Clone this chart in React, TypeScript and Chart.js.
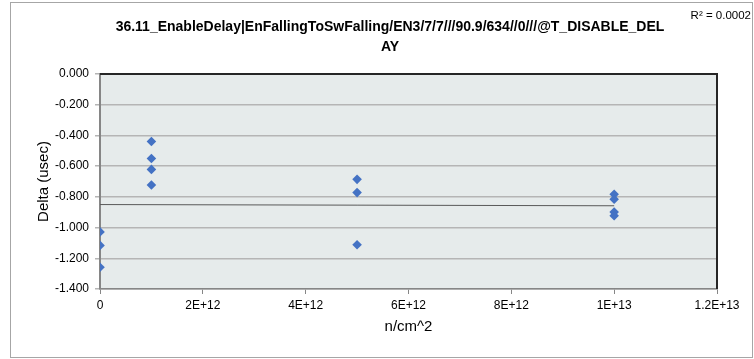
import React, { useEffect, useRef } from "react";
import { Chart, registerables } from "chart.js";
Chart.register(...registerables);

const TITLE_LINES = [
  "36.11_EnableDelay|EnFallingToSwFalling/EN3/7/7///90.9/634//0///@T_DISABLE_DEL",
  "AY",
];
const X_TITLE = "n/cm^2";
const Y_TITLE = "Delta (usec)";
const R2_LABEL = "R² = 0.0002";

const fluence = [0, 0, 0, 1e12, 1e12, 1e12, 1e12, 5e12, 5e12, 5e12, 1e13, 1e13, 1e13, 1e13];
const delta = [-1.028, -1.116, -1.258, -0.439, -0.55, -0.621, -0.723, -0.686, -0.772, -1.112, -0.783, -0.815, -0.899, -0.923];

const trendX = [0, 1e13];
const trendY = [-0.85, -0.858];

const xTickValues = [0, 2e12, 4e12, 6e12, 8e12, 1e13, 1.2e13];
const xTickLabels = ["0", "2E+12", "4E+12", "6E+12", "8E+12", "1E+13", "1.2E+13"];
const yTickValues = [0, -0.2, -0.4, -0.6, -0.8, -1.0, -1.2, -1.4];
const yTickLabels = ["0.000", "-0.200", "-0.400", "-0.600", "-0.800", "-1.000", "-1.200", "-1.400"];

const FONT = "'Liberation Sans', Arial, sans-serif";

export default function App() {
  const ref = useRef<HTMLCanvasElement | null>(null);
  useEffect(() => {
    if (!ref.current) return;
    const plotDeco = {
      id: "plotDeco",
      beforeDraw(chart: any) {
        const { ctx, chartArea: a } = chart;
        ctx.save();
        ctx.fillStyle = "#e6ebeb";
        ctx.fillRect(a.left, a.top, a.right - a.left, a.bottom - a.top);
        ctx.restore();
      },
      afterDraw(chart: any) {
        const { ctx, chartArea: a, width } = chart;
        ctx.save();
        ctx.strokeStyle = "#262626";
        ctx.lineWidth = 2;
        ctx.beginPath();
        ctx.moveTo(a.left, a.top);
        ctx.lineTo(a.right, a.top);
        ctx.lineTo(a.right, a.bottom);
        ctx.stroke();
        ctx.fillStyle = "#000";
        ctx.font = "11.5px " + FONT;
        ctx.textAlign = "right";
        ctx.textBaseline = "middle";
        ctx.fillText(R2_LABEL, width - 1, 13);
        ctx.restore();
      },
    };
    const chart = new Chart(ref.current, {
      type: "scatter",
      data: {
        datasets: [
          {
            label: "data",
            data: fluence.map((x, i) => ({ x, y: delta[i] })),
            pointStyle: "rectRot",
            pointRadius: 4.8,
            backgroundColor: "#4472c4",
            borderColor: "#4472c4",
            borderWidth: 0,
          },
          {
            label: "trend",
            data: trendX.map((x, i) => ({ x, y: trendY[i] })),
            showLine: true,
            pointRadius: 0,
            borderColor: "#595959",
            borderWidth: 1,
          },
        ],
      },
      options: {
        responsive: false,
        animation: false,
        devicePixelRatio: 1,
        layout: { padding: { left: 17, right: 0, top: 0, bottom: 0 } },
        plugins: {
          legend: { display: false },
          tooltip: { enabled: false },
          title: {
            display: true,
            text: TITLE_LINES,
            color: "#000",
            font: { family: FONT, size: 14, weight: "bold", lineHeight: 1.43 },
            padding: { top: 14, bottom: 17 },
          },
        },
        scales: {
          x: {
            type: "linear",
            min: 0,
            max: 1.2e13,
            afterBuildTicks: (s: any) => {
              s.ticks = xTickValues.map((v) => ({ value: v }));
            },
            afterFit: (s: any) => {
              s.height = 68;
            },
            ticks: {
              color: "#000",
              font: { family: FONT, size: 12 },
              padding: 4,
              maxRotation: 0,
              autoSkip: false,
              callback: (v: any, i: number) => xTickLabels[i],
            },
            grid: { drawOnChartArea: false, drawTicks: true, tickLength: 5, color: "#868686" },
            border: { display: true, color: "#868686", width: 1.5 },
            title: {
              display: true,
              text: X_TITLE,
              color: "#000",
              font: { family: FONT, size: 15 },
              padding: { top: 0, bottom: 21 },
            },
          },
          y: {
            type: "linear",
            min: -1.4,
            max: 0,
            afterBuildTicks: (s: any) => {
              s.ticks = yTickValues.map((v) => ({ value: v }));
            },
            afterFit: (s: any) => {
              s.width = 72;
            },
            ticks: {
              color: "#000",
              font: { family: FONT, size: 12 },
              padding: 6,
              autoSkip: false,
              callback: (v: any, i: number) => yTickLabels[i],
            },
            grid: { drawOnChartArea: true, drawTicks: true, tickLength: 5, color: "#b5b5b5", lineWidth: 1.5 },
            border: { display: true, color: "#868686", width: 2 },
            title: {
              display: true,
              text: Y_TITLE,
              color: "#000",
              font: { family: FONT, size: 15 },
              padding: { top: 7, bottom: 0 },
            },
          },
          y2: {
            type: "linear",
            position: "right",
            display: true,
            afterFit: (s: any) => {
              s.width = 35;
            },
            ticks: { display: false },
            grid: { display: false, drawTicks: false },
            border: { display: false },
          },
        },
      },
      plugins: [plotDeco],
    } as any);
    return () => chart.destroy();
  }, []);
  return (
    <div
      style={{
        position: "fixed",
        left: 10,
        top: 2,
        width: 741,
        height: 354,
        border: "1px solid #a6a6a6",
        background: "#fff",
      }}
    >
      <canvas ref={ref} width={741} height={354} style={{ display: "block" }} />
    </div>
  );
}
